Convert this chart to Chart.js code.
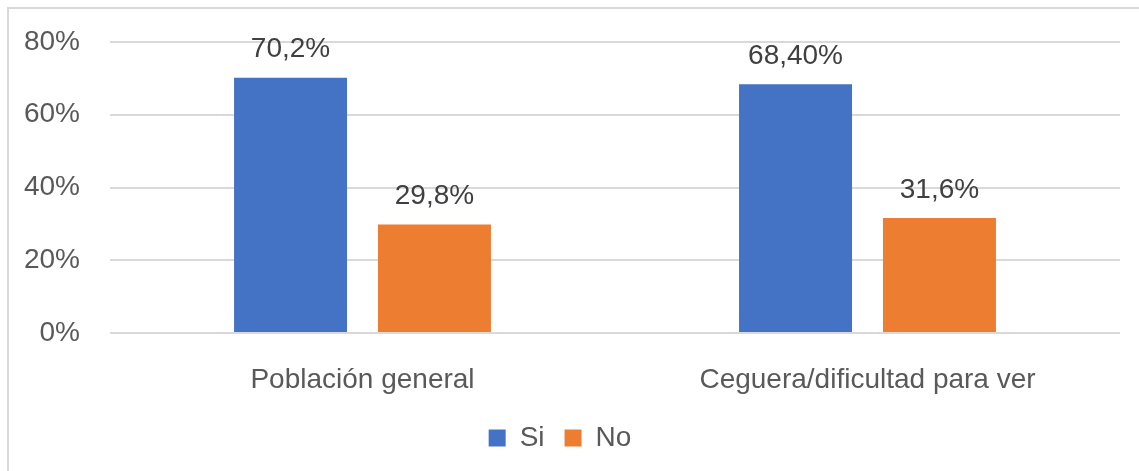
<!DOCTYPE html>
<html><head><meta charset="utf-8">
<script src="https://cdn.jsdelivr.net/npm/chart.js@4/dist/chart.umd.min.js"></script>
<style>
html,body{margin:0;padding:0;background:#fff;overflow:hidden}
#frame{position:absolute;left:7px;top:7px;width:1200px;height:520px;border:2px solid #d9d9d9;box-sizing:border-box}
#wrap{position:absolute;left:0;top:0;width:1139px;height:471px}
</style></head>
<body>
<div id="frame"></div>
<div id="wrap"><canvas id="c" width="1139" height="471"></canvas></div>
<script>
const categories = ["Población general", "Ceguera/dificultad para ver"];
const seriesNames = ["Si", "No"];
const siValues = [70.2, 68.4];
const noValues = [29.8, 31.6];
const siLabels = ["70,2%", "68,40%"];
const noLabels = ["29,8%", "31,6%"];
const yTicks = [0, 20, 40, 60, 80];

const FONT = "'Liberation Sans', Arial, sans-serif";
const FS = 28;

const valueLabels = {
  id: 'valueLabels',
  afterDatasetsDraw(chart) {
    const ctx = chart.ctx;
    ctx.save();
    ctx.font = FS + "px " + FONT;
    ctx.fillStyle = '#404040';
    ctx.textAlign = 'center';
    ctx.textBaseline = 'bottom';
    const lbls = [siLabels, noLabels];
    chart.data.datasets.forEach((ds, di) => {
      chart.getDatasetMeta(di).data.forEach((bar, i) => {
        ctx.fillText(lbls[di][i], bar.x, bar.y - 14);
      });
    });
    ctx.restore();
  }
};

new Chart(document.getElementById('c'), {
  type: 'bar',
  data: {
    labels: categories,
    datasets: [
      { label: seriesNames[0], data: siValues, backgroundColor: '#4472C4' },
      { label: seriesNames[1], data: noValues, backgroundColor: '#ED7D31' }
    ]
  },
  options: {
    responsive: false,
    animation: false,
    devicePixelRatio: 1,
    layout: { padding: { top: 42, right: 19, left: 0, bottom: 9 } },
    datasets: { bar: { categoryPercentage: 0.57, barPercentage: 0.785 } },
    scales: {
      x: {
        grid: { display: false },
        border: { display: false },
        ticks: { color: '#595959', font: { family: FONT, size: FS }, padding: 22 },
        afterFit(s) { s.height = 71; s.paddingLeft = 0; s.paddingRight = 0; }
      },
      y: {
        min: 0, max: 80,
        afterBuildTicks(s) { s.ticks = yTicks.map(v => ({ value: v })); },
        grid: { color: '#d9d9d9', lineWidth: 2, drawTicks: false },
        border: { display: false },
        ticks: { color: '#595959', font: { family: FONT, size: FS }, padding: 30,
                 callback: v => v + '%' },
        afterFit(s) { s.width = 110; s.paddingTop = 0; s.paddingBottom = 0; }
      }
    },
    plugins: {
      legend: {
        position: 'bottom',
        labels: { color: '#595959', font: { family: FONT, size: FS }, boxWidth: 17, boxHeight: 17, padding: 20 }
      },
      tooltip: { enabled: false }
    }
  },
  plugins: [valueLabels]
});
</script>
</body></html>
